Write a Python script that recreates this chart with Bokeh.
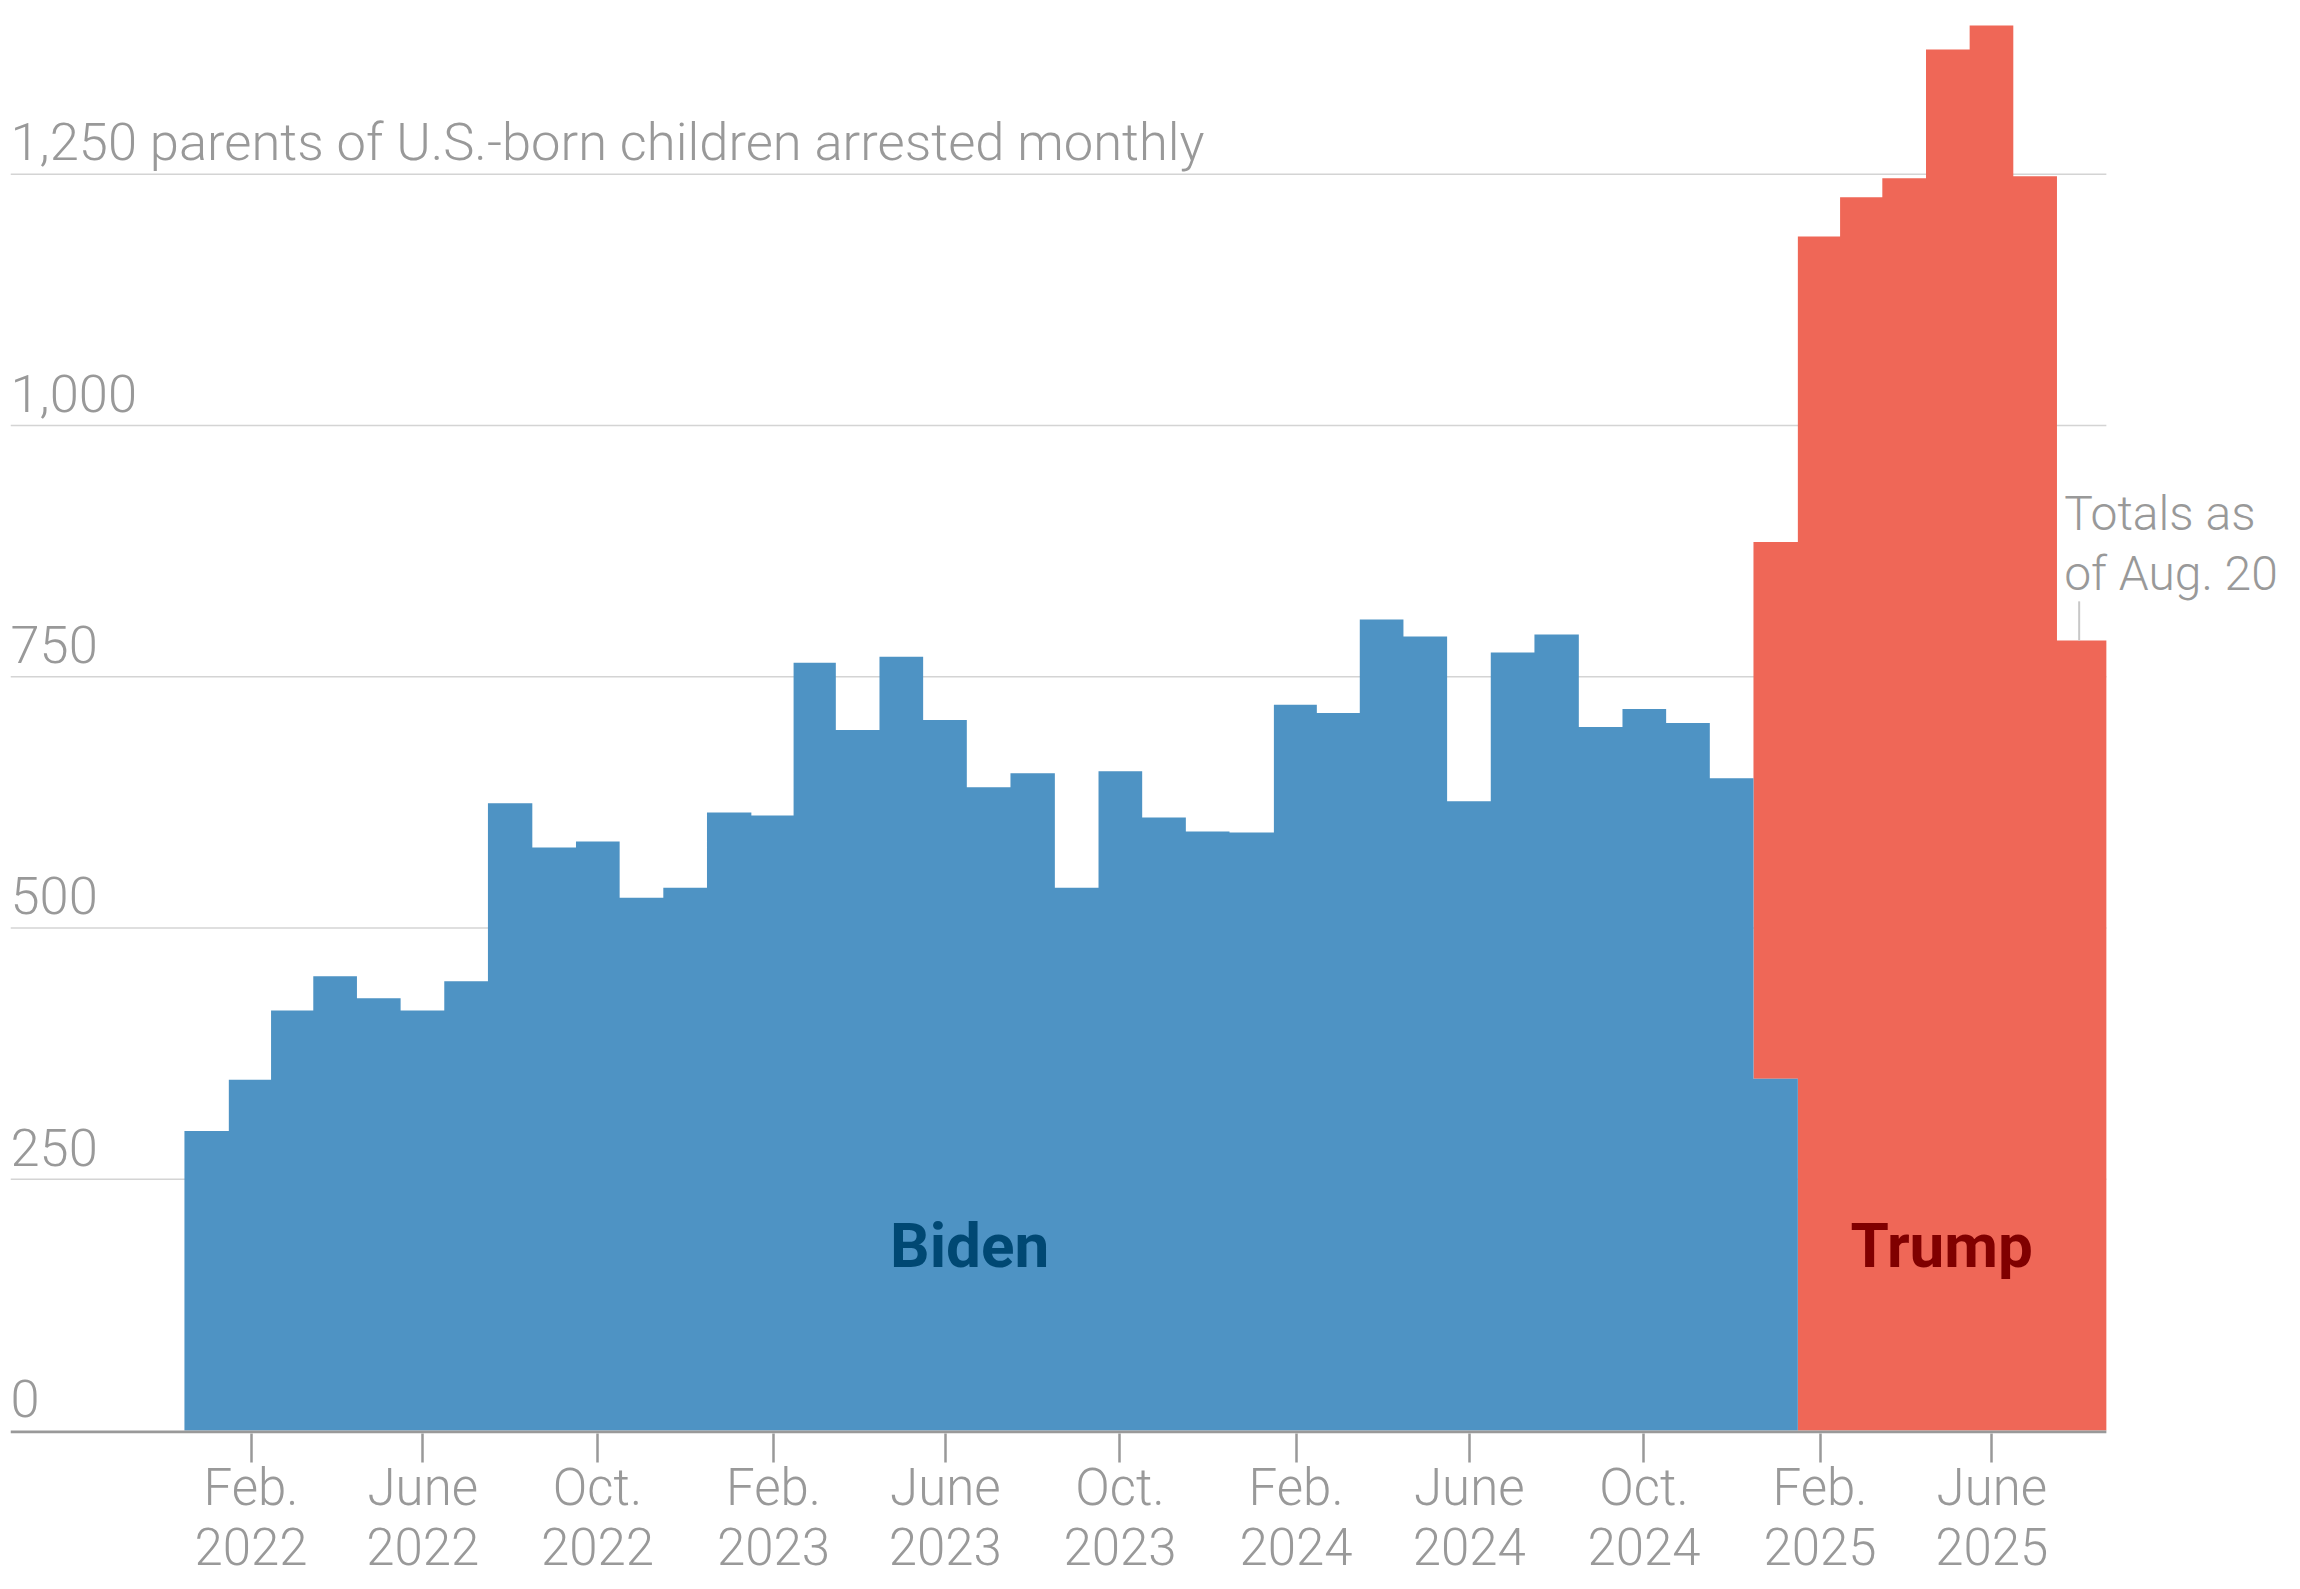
import numpy as np
import pandas as pd
from bokeh.plotting import figure
from bokeh.models import Range1d, FixedTicker, Grid
from bokeh.core.properties import value
from bokeh.embed import file_html
from bokeh.resources import INLINE

# ---------------- data ----------------
biden_months = pd.date_range("2022-01-01", "2025-01-01", freq="MS")
biden_values = [298, 349, 418, 452, 430, 418, 447, 624, 580, 586, 530, 540,
                615, 612, 764, 697, 770, 707, 640, 654, 540, 656, 610, 596,
                595, 722, 714, 807, 790, 626, 774, 792, 700, 718, 704, 649,
                350]
trump_months = pd.date_range("2025-01-01", "2025-08-01", freq="MS")
trump_values = [534, 1188, 1227, 1246, 1374, 1398, 1248, 786]
as_of = pd.Timestamp("2025-08-20")

y_ticks = [0, 250, 500, 750, 1000, 1250]
y_tick_labels = ["0", "250", "500", "750", "1,000",
                 "1,250 parents of U.S.-born children arrested monthly"]
x_tick_dates = ["2022-02-01", "2022-06-01", "2022-10-01", "2023-02-01", "2023-06-01",
                "2023-10-01", "2024-02-01", "2024-06-01", "2024-10-01", "2025-02-01",
                "2025-06-01"]
x_tick_labels = ["Feb.\n2022", "June\n2022", "Oct.\n2022", "Feb.\n2023", "June\n2023",
                 "Oct.\n2023", "Feb.\n2024", "June\n2024", "Oct.\n2024", "Feb.\n2025",
                 "June\n2025"]
period_names = ["Biden", "Trump"]
period_label_dates = ["2023-06-18", "2025-04-27"]
note_lines = ["Totals as", "of Aug. 20"]

# ---------------- helpers ----------------
DAY = 86400000.0


def ms(t):
    return pd.Timestamp(t).value / 1e6


all_months = biden_months.union(trump_months)
m_ms = np.array([ms(t) for t in all_months])
mids = (m_ms[:-1] + m_ms[1:]) / 2
left_edges = np.concatenate([[m_ms[0] - (m_ms[1] - m_ms[0]) / 2], mids])
right_edges = np.concatenate([mids, [ms(as_of)]])
idx_of = {t: i for i, t in enumerate(all_months)}
biden_by_month = dict(zip(biden_months, biden_values))


def step_area(months, bottoms, tops):
    xs, y1, y2 = [], [], []
    for t, b, h in zip(months, bottoms, tops):
        i = idx_of[t]
        xs += [left_edges[i], right_edges[i]]
        y1 += [b, b]
        y2 += [h, h]
    return xs, y1, y2


b_x, b_y1, b_y2 = step_area(biden_months, [0] * len(biden_values), biden_values)
t_bottom = [biden_by_month.get(t, 0) for t in trump_months]
t_top = [b + v for b, v in zip(t_bottom, trump_values)]
t_x, t_y1, t_y2 = step_area(trump_months, t_bottom, t_top)

# ---------------- figure ----------------
GRAY = "#999999"
FRAME_W = 2288
PX_PER_DAY = 1.4316
x_start = ms(x_tick_dates[0]) - 168.0 * DAY
x_end = x_start + FRAME_W / PX_PER_DAY * DAY

p = figure(frame_width=FRAME_W, frame_height=1425,
           x_axis_type="datetime", y_axis_location=None,
           x_range=Range1d(x_start, x_end), y_range=Range1d(-3, 1414.9),
           output_backend="svg", toolbar_location=None,
           min_border_left=10, min_border_right=0, min_border_top=8, min_border_bottom=0)
p.outline_line_color = None
p.background_fill_color = "white"
p.border_fill_color = "white"
p.center = [r for r in p.center if not isinstance(r, Grid)]

# horizontal gridlines (end at the data cut-off)
grid_y = y_ticks[1:]
p.segment(x0=[x_start] * len(grid_y), y0=grid_y, x1=[ms(as_of)] * len(grid_y), y1=grid_y,
          line_color="#d4d4d4", line_width=1.5)

p.varea(x=t_x, y1=t_y1, y2=t_y2, fill_color="#ef6757")
p.varea(x=b_x, y1=b_y1, y2=b_y2, fill_color="#4e93c4")

# baseline (zero line)
p.segment(x0=[x_start], y0=[-1.5], x1=[ms(as_of)], y1=[-1.5],
          line_color=GRAY, line_width=3)

# x axis
tick_ms = [ms(d) for d in x_tick_dates]
ax = p.xaxis[0]
ax.ticker = FixedTicker(ticks=tick_ms)
ax.major_label_overrides = {t: lab for t, lab in zip(tick_ms, x_tick_labels)}
ax.axis_line_color = None
ax.major_tick_line_color = GRAY
ax.major_tick_line_width = 2.5
ax.major_tick_out = 29
ax.major_tick_in = 0
ax.minor_tick_line_color = None
ax.major_label_standoff = -5
ax.major_label_text_font = "Roboto Light"
ax.major_label_text_font_size = "51px"
ax.major_label_text_color = GRAY
ax.major_label_text_line_height = 1.02

# y labels inside the plot
p.text(x=[x_start] * len(y_ticks), y=y_ticks, text=y_tick_labels,
       text_font=value("Roboto Light"), text_font_size="52.5px", text_color=GRAY,
       text_align="left", text_baseline="alphabetic", y_offset=-32)

# period labels
p.text(x=[ms(period_label_dates[0])], y=[162], text=[period_names[0]],
       text_font=value("Roboto"), text_font_style="bold", text_font_size="62px",
       text_color="#004873", text_align="center", text_baseline="alphabetic", y_offset=-22)
p.text(x=[ms(period_label_dates[1])], y=[162], text=[period_names[1]],
       text_font=value("Roboto"), text_font_style="bold", text_font_size="62px",
       text_color="#800000", text_align="center", text_baseline="alphabetic", y_offset=-22)

# note about last month
last_x = ms(trump_months[-1])
last_v = t_top[-1]
p.segment(x0=[last_x], y0=[last_v], x1=[last_x], y1=[last_v + 39],
          line_color="#c8c8c8", line_width=2)
p.text(x=[last_x] * len(note_lines), y=[last_v + 110.5, last_v + 51], text=note_lines,
       text_font=value("Roboto Light"), text_font_size="48px", text_color=GRAY,
       text_align="left", text_baseline="alphabetic", x_offset=-15, y_offset=-16)

open("out.html", "w").write(file_html(p, INLINE, "chart"))
